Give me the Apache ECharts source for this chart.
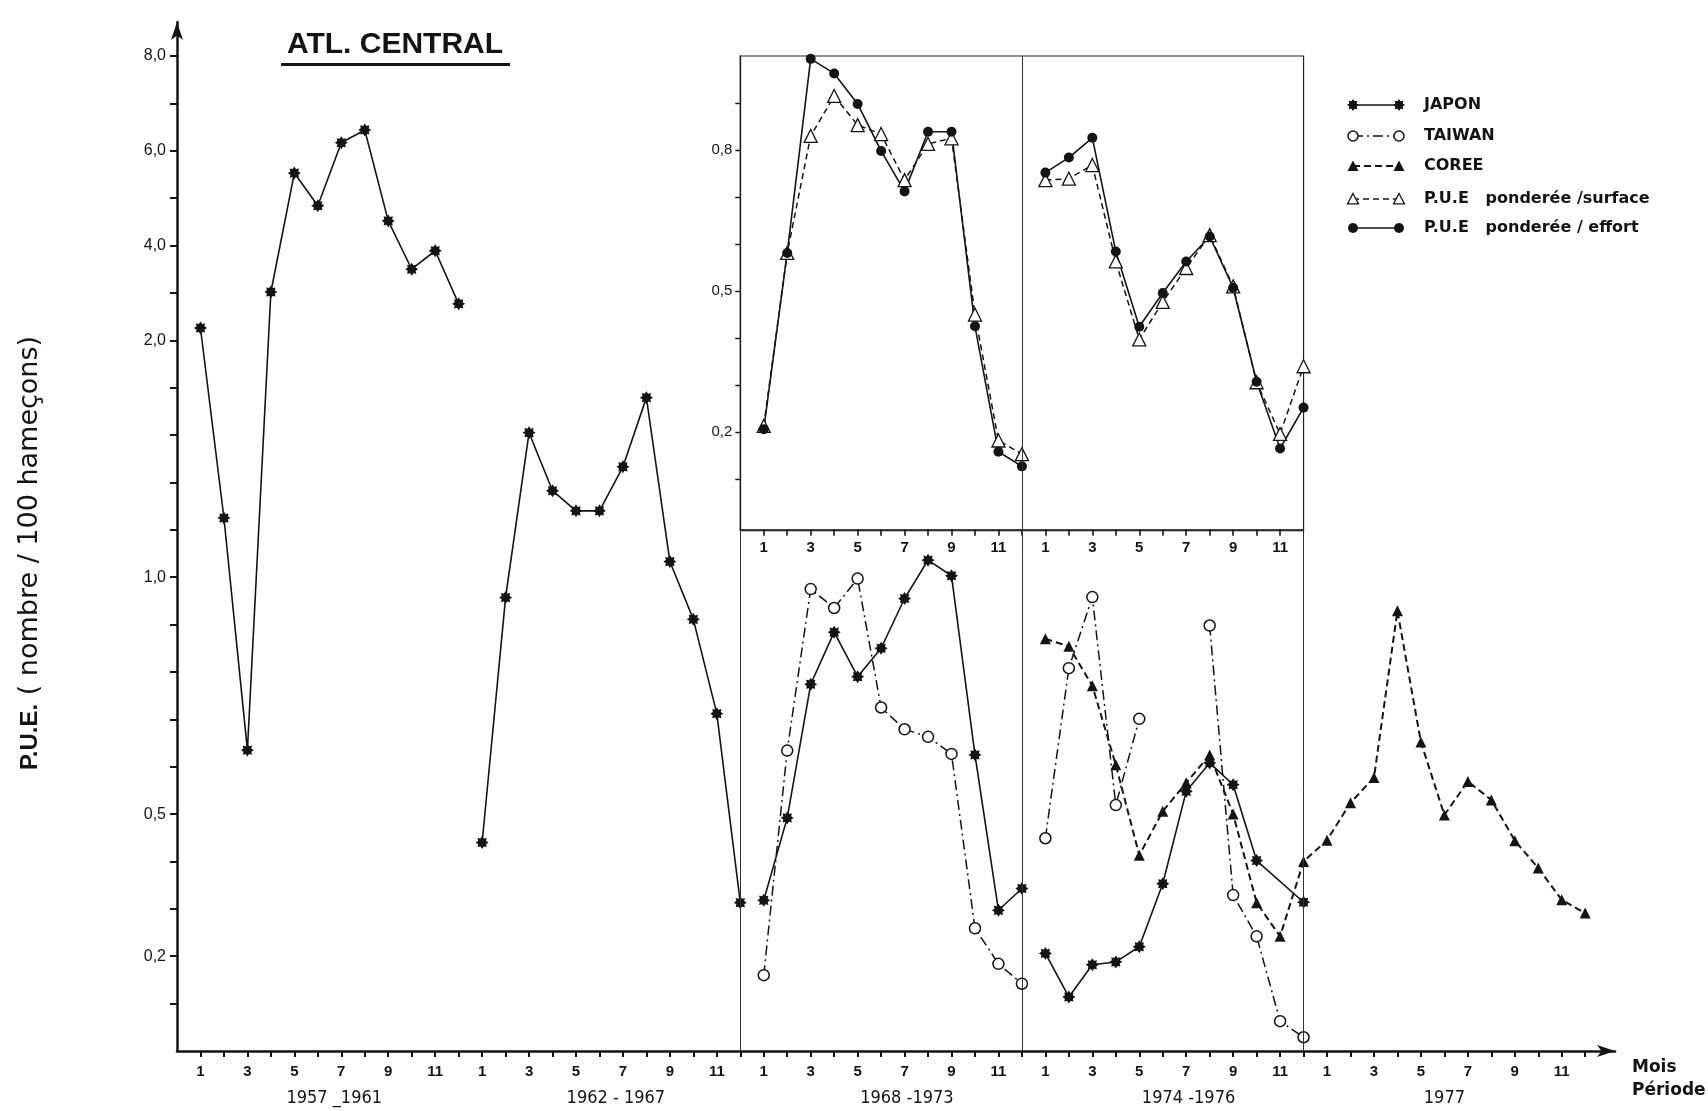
<!DOCTYPE html>
<html><head><meta charset="utf-8">
<script src="https://cdn.jsdelivr.net/npm/echarts@6/dist/echarts.min.js"></script>
<style>html,body{margin:0;padding:0;background:#fff}#c{width:1708px;height:1111px}</style>
</head><body><div id="c"></div>
<script>
// ================= DATA =================
const periods = ['1957 _1961', '1962 - 1967', '1968 -1973', '1974 -1976', '1977'];
const months = ['1','2','3','4','5','6','7','8','9','10','11','12'];

// main axis (P.U.E., piecewise scale)
const yLabelValues = [0.2, 0.5, 1.0, 2.0, 4.0, 6.0, 8.0];
const yLabels = ['0,2', '0,5', '1,0', '2,0', '4,0', '6,0', '8,0'];
const yTickValues = [0.1,0.2,0.3,0.4,0.5,0.6,0.7,0.8,0.9,1.0,1.2,1.4,1.6,1.8,2.0,3,4,5,6,7,8];

// inset axis
const insetLabelValues = [0.2, 0.5, 0.8];
const insetLabels = ['0,2', '0,5', '0,8'];
const insetTickValues = [0.1,0.2,0.3,0.4,0.5,0.6,0.7,0.8,0.9];

// series, 12 months per period
const japon_1957_61 = [2.26, 1.25, 0.635, 3.02, 5.53, 4.84, 6.17, 6.44, 4.52, 3.50, 3.89, 2.77];
const japon_1962_67 = [0.44, 0.957, 1.61, 1.365, 1.28, 1.28, 1.466, 1.758, 1.066, 0.911, 0.712, 0.313];
const japon_1968_73 = [0.318, 0.492, 0.774, 0.884, 0.79, 0.85, 0.955, 1.072, 1.006, 0.625, 0.297, 0.343];
const japon_1974_76 = [0.206, 0.114, 0.182, 0.188, 0.22, 0.353, 0.548, 0.608, 0.562, 0.402, null, 0.314];
const taiwan_1968_73 = [0.16, 0.634, 0.975, 0.935, 0.997, 0.725, 0.679, 0.663, 0.627, 0.259, 0.184, 0.142];
const taiwan_1974_76 = [0.449, 0.808, 0.958, 0.519, 0.701, null, null, 0.898, 0.329, 0.242, 0.063, 0.029];
const coree_1974_76 = [0.870, 0.854, 0.771, 0.604, 0.413, 0.506, 0.566, 0.625, 0.50, 0.313, 0.242, 0.40];
const coree_1977 = [0.445, 0.524, 0.577, 0.929, 0.652, 0.498, 0.569, 0.530, 0.444, 0.386, 0.319, 0.291];
const surface_1968_73 = [0.213, 0.581, 0.830, 0.915, 0.853, 0.834, 0.736, 0.813, 0.825, 0.45, 0.182, 0.153];
const surface_1974_76 = [0.736, 0.739, 0.768, 0.563, 0.397, 0.477, 0.549, 0.619, 0.51, 0.306, 0.196, 0.34];
const effort_1968_73 = [0.206, 0.581, 0.994, 0.963, 0.898, 0.798, 0.712, 0.839, 0.839, 0.425, 0.158, 0.127];
const effort_1974_76 = [0.752, 0.784, 0.826, 0.584, 0.424, 0.496, 0.563, 0.616, 0.507, 0.307, 0.165, 0.252];

const legendNames = ['JAPON', 'TAIWAN', 'COREE', 'P.U.E   ponderée /surface', 'P.U.E   ponderée / effort'];

// ================= LAYOUT =================
const W = 1708, H = 1111;
const G = {left: 177, right: 93, top: 22, bottom: 60};
const PX_X = 23.47, PX_T = 47.38;
const X_MAX = (W - G.left - G.right) / PX_X;
const T_MAX = (H - G.top - G.bottom) / PX_T;
const INSET = {x0: 24, x1: 48, t0: 11, t1: 21};
const INSET_YMIN = -0.008, INSET_YMAX = 1.0;
const periodLabelAt = [6.7, 18.7, 31.1, 43.1, 54.0];
const INK = '#141414';
const FONT = '"Liberation Sans", Arial, Helvetica, sans-serif';
const WIDE = '"DejaVu Sans", "Liberation Sans", sans-serif';
const NARROW = '"Liberation Sans Narrow", "DejaVu Sans Condensed", "Liberation Sans", sans-serif';

// piecewise P.U.E. scale of the original figure (0-1 by 0.1, 1-2 by 0.2, 2-8 by 1 per step)
function toT(v) {
  if (v == null) return '-';
  if (v <= 1) return v * 10;
  if (v <= 2) return 10 + (v - 1) * 5;
  return 15 + (v - 2);
}
function idx(p, m) { return p * 12 + m; }
function monthOf(x) { return months[((Math.round(x) - 1) % 12 + 12) % 12]; }

function starPts(cx, cy, R, r, n) {
  const pts = [];
  for (let i = 0; i < 2 * n; i++) {
    const a = -Math.PI / 2 + i * Math.PI / n;
    const rad = i % 2 === 0 ? R : r;
    pts.push([cx + rad * Math.cos(a), cy + rad * Math.sin(a)]);
  }
  return pts;
}
const STAR = 'path://' + starPts(10, 10, 10, 6.6, 8).map((p, i) => (i ? 'L' : 'M') + p[0].toFixed(2) + ' ' + p[1].toFixed(2)).join(' ') + 'Z';

const styles = {
  japon:   {symbol: STAR, symbolSize: 13, itemStyle: {color: INK}, lineStyle: {color: INK, width: 1.6, type: 'solid'}},
  taiwan:  {symbol: 'circle', symbolSize: 11, itemStyle: {color: '#fff', borderColor: INK, borderWidth: 1.5}, lineStyle: {color: INK, width: 1.5, type: [10, 4, 2, 4]}},
  coree:   {symbol: 'triangle', symbolSize: 11, itemStyle: {color: INK}, lineStyle: {color: INK, width: 2, type: [7, 4]}},
  surface: {symbol: 'triangle', symbolSize: 13, itemStyle: {color: '#fff', borderColor: INK, borderWidth: 1.3}, lineStyle: {color: INK, width: 1.5, type: [6, 4]}},
  effort:  {symbol: 'circle', symbolSize: 10, itemStyle: {color: INK}, lineStyle: {color: INK, width: 1.6, type: 'solid'}}
};

function mainSeries(name, vals, p, st, extra) {
  return Object.assign({
    type: 'line', name: name, xAxisIndex: 0, yAxisIndex: 0, z: 4,
    data: vals.map((v, i) => [idx(p, i + 1), toT(v)]),
    showAllSymbol: true, animation: false, silent: true
  }, st, extra || {});
}
function insetSeries(name, vals, p, st) {
  return Object.assign({
    type: 'line', name: name, xAxisIndex: 2, yAxisIndex: 1, z: 4,
    data: vals.map((v, i) => [idx(p, i + 1), v == null ? '-' : v]),
    showAllSymbol: true, animation: false, silent: true
  }, st);
}

const seps = {
  symbol: 'none', silent: true, animation: false, label: {show: false},
  lineStyle: {color: '#333', width: 1, type: 'solid'},
  data: [
    [{coord: [INSET.x0, 0]}, {coord: [INSET.x0, INSET.t0]}],
    [{coord: [36, 0]}, {coord: [36, INSET.t1]}],
    [{coord: [INSET.x1, 0]}, {coord: [INSET.x1, INSET.t0]}]
  ]
};

const series = [
  mainSeries('JAPON', japon_1957_61, 0, styles.japon, {markLine: seps}),
  mainSeries('JAPON', japon_1962_67, 1, styles.japon),
  mainSeries('JAPON', japon_1968_73, 2, styles.japon),
  mainSeries('JAPON', japon_1974_76, 3, styles.japon, {connectNulls: true}),
  mainSeries('TAIWAN', taiwan_1968_73, 2, styles.taiwan),
  mainSeries('TAIWAN', taiwan_1974_76, 3, styles.taiwan, {connectNulls: false}),
  mainSeries('COREE', coree_1974_76.concat(coree_1977), 3, styles.coree),
  insetSeries('surface', surface_1968_73, 2, styles.surface),
  insetSeries('surface', surface_1974_76, 3, styles.surface),
  insetSeries('effort', effort_1968_73, 2, styles.effort),
  insetSeries('effort', effort_1974_76, 3, styles.effort)
];

const allMonths = []; for (let p = 0; p < 5; p++) for (let m = 1; m <= 12; m++) allMonths.push(idx(p, m));
const oddMonths = allMonths.filter(x => ((x - 1) % 12) % 2 === 0);
const insetMonths = allMonths.filter(x => x > INSET.x0 && x < INSET.x1);
const insetOdd = insetMonths.filter(x => ((x - 1) % 12) % 2 === 0);

const labelByT = {};
yLabelValues.forEach((v, i) => { labelByT[toT(v).toFixed(3)] = yLabels[i]; });
const insetLabelBy = {};
insetLabelValues.forEach((v, i) => { insetLabelBy[v.toFixed(3)] = insetLabels[i]; });

const insetGrid = {
  left: G.left + INSET.x0 * PX_X,
  right: W - (G.left + INSET.x1 * PX_X),
  top: (H - G.bottom) - INSET.t1 * PX_T,
  bottom: G.bottom + INSET.t0 * PX_T,
  show: true, borderColor: '#222', borderWidth: 1.2, backgroundColor: 'transparent',
  containLabel: false, outerBoundsMode: 'none'
};

// ---------- legend graphics ----------
const LEG = {x0: 1353, x1: 1399, tx: 1424, rows: [105, 136, 166, 199, 228]};
const legendKinds = ['japon', 'taiwan', 'coree', 'surface', 'effort'];
function legSymbol(kind, x, y) {
  const st = styles[kind];
  const fill = st.itemStyle.color, stroke = st.itemStyle.borderColor || INK, lw = st.itemStyle.borderWidth || 0;
  if (kind === 'japon') return {type: 'polygon', shape: {points: starPts(x, y, 6, 4, 8)}, style: {fill: INK}, z: 10};
  if (st.symbol === 'circle') return {type: 'circle', shape: {cx: x, cy: y, r: 5}, style: {fill: fill, stroke: stroke, lineWidth: lw}, z: 10};
  const s = 5.5;
  return {type: 'polygon', shape: {points: [[x, y - s], [x + s, y + s * 0.9], [x - s, y + s * 0.9]]}, style: {fill: fill, stroke: stroke, lineWidth: lw}, z: 10};
}
const legendGraphics = [];
legendKinds.forEach((k, i) => {
  const y = LEG.rows[i], st = styles[k];
  legendGraphics.push({type: 'line', shape: {x1: LEG.x0, y1: y, x2: LEG.x1, y2: y},
    style: {stroke: INK, lineWidth: st.lineStyle.width, lineDash: Array.isArray(st.lineStyle.type) ? st.lineStyle.type : null}, z: 9});
  legendGraphics.push(legSymbol(k, LEG.x0, y));
  legendGraphics.push(legSymbol(k, LEG.x1, y));
  legendGraphics.push({type: 'text', x: LEG.tx, y: y, z: 10,
    style: {text: legendNames[i], font: 'bold 16px ' + WIDE, fill: INK, align: 'left', verticalAlign: 'middle', textAlign: 'left', textVerticalAlign: 'middle'}});
});

const option = {
  animation: false,
  backgroundColor: '#fff',
  textStyle: {fontFamily: FONT, color: INK},
  grid: [
    {left: G.left, right: G.right, top: G.top, bottom: G.bottom, containLabel: false, outerBoundsMode: 'none'},
    insetGrid
  ],
  xAxis: [
    { // main month axis
      gridIndex: 0, type: 'value', min: 0, max: X_MAX, position: 'bottom',
      axisLine: {show: true, onZero: false, symbol: ['none', 'arrow'], symbolSize: [9, 18], lineStyle: {color: INK, width: 2.5}},
      axisTick: {show: true, inside: false, length: 6, customValues: allMonths, lineStyle: {color: INK, width: 2}},
      axisLabel: {show: true, customValues: oddMonths, formatter: v => monthOf(v), margin: 13, fontSize: 15, fontWeight: 'bold', color: INK, fontFamily: FONT},
      splitLine: {show: false}
    },
    { // period labels
      gridIndex: 0, type: 'value', min: 0, max: X_MAX, position: 'bottom', offset: 0,
      axisLine: {show: false}, axisTick: {show: false}, splitLine: {show: false},
      axisLabel: {show: true, customValues: periodLabelAt,
        formatter: v => periods[periodLabelAt.findIndex(a => Math.abs(a - v) < 1e-6)] || '',
        margin: 38, fontSize: 18, color: INK, fontFamily: NARROW}
    },
    { // inset month axis
      gridIndex: 1, type: 'value', min: INSET.x0, max: INSET.x1, position: 'bottom',
      axisLine: {show: true, onZero: false, lineStyle: {color: '#222', width: 1.4}},
      axisTick: {show: true, inside: false, length: 6, customValues: insetMonths, lineStyle: {color: INK, width: 1.6}},
      axisLabel: {show: true, customValues: insetOdd, formatter: v => monthOf(v), margin: 11, fontSize: 15, fontWeight: 'bold', color: INK, fontFamily: FONT},
      splitLine: {show: false}
    }
  ],
  yAxis: [
    {
      gridIndex: 0, type: 'value', min: 0, max: T_MAX, position: 'left',
      axisLine: {show: true, onZero: false, symbol: ['none', 'arrow'], symbolSize: [9, 18], lineStyle: {color: INK, width: 2.5}},
      axisTick: {show: true, inside: false, length: 7, customValues: yTickValues.map(toT), lineStyle: {color: INK, width: 2}},
      axisLabel: {show: true, customValues: yLabelValues.map(toT), formatter: v => labelByT[Number(v).toFixed(3)] || '',
        margin: 11, fontSize: 16, color: INK, fontFamily: FONT},
      splitLine: {show: false}
    },
    {
      gridIndex: 1, type: 'value', min: INSET_YMIN, max: INSET_YMAX, position: 'left',
      axisLine: {show: true, onZero: false, lineStyle: {color: '#222', width: 1.4}},
      axisTick: {show: true, inside: false, length: 5, customValues: insetTickValues, lineStyle: {color: INK, width: 1.4}},
      axisLabel: {show: true, customValues: insetLabelValues, formatter: v => insetLabelBy[Number(v).toFixed(3)] || '',
        margin: 8, fontSize: 15, color: INK, fontFamily: FONT},
      splitLine: {show: false}
    }
  ],
  graphic: [
    {type: 'text', x: 395, y: 45, z: 10, style: {text: 'ATL. CENTRAL', font: 'bold 30px ' + FONT, fill: INK,
      align: 'center', verticalAlign: 'middle', textAlign: 'center', textVerticalAlign: 'middle'}},
    {type: 'rect', shape: {x: 281, y: 63, width: 229, height: 3}, style: {fill: INK}, z: 10},
    {type: 'text', x: 30, y: 553, rotation: Math.PI / 2, z: 10,
      style: {text: '{b|P.U.E.} ( nombre / 100 hameçons)', font: '27px ' + WIDE, fill: INK,
        rich: {b: {fontWeight: 'bold', fontSize: 24, fontFamily: FONT, fill: INK, color: INK}},
        align: 'center', verticalAlign: 'middle', textAlign: 'center', textVerticalAlign: 'middle'}},
    {type: 'text', x: 1632, y: 1056, z: 10, style: {text: 'Mois\nPériode', font: 'bold 17px ' + WIDE, lineHeight: 23, fill: INK,
      align: 'left', verticalAlign: 'top', textAlign: 'left', textVerticalAlign: 'top'}}
  ].concat(legendGraphics),
  series: series
};

const chart = echarts.init(document.getElementById('c'), null, {renderer: 'canvas', width: W, height: H});
chart.setOption(option);
</script>
</body></html>
